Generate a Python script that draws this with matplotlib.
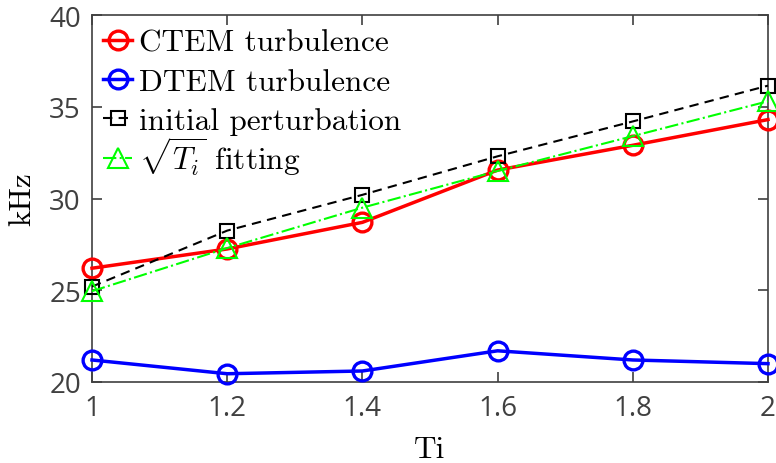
import matplotlib
matplotlib.use('Agg')
import matplotlib.pyplot as plt

plt.rcParams['mathtext.fontset'] = 'cm'
plt.rcParams['axes.unicode_minus'] = False

# data
ti = [1.0, 1.2, 1.4, 1.6, 1.8, 2.0]
ctem = [26.2, 27.25, 28.7, 31.55, 32.9, 34.3]
dtem = [21.2, 20.45, 20.6, 21.7, 21.2, 21.0]
initial = [25.2, 28.25, 30.2, 32.3, 34.2, 36.15]
sqrt_fit = [24.95, 27.3, 29.5, 31.5, 33.4, 35.3]

xticks = [1, 1.2, 1.4, 1.6, 1.8, 2]
xticklabels = ['1', '1.2', '1.4', '1.6', '1.8', '2']
yticks = [20, 25, 30, 35, 40]

fig = plt.figure(figsize=(7.76, 4.64), dpi=100)
ax = fig.add_axes([92/776, 1 - 383/464, 676/776, 367/464])

l1, = ax.plot(ti, ctem, '-o', color='#ff0000', lw=2.5, ms=13.5, mew=2.4,
              mfc='none', label='CTEM turbulence', clip_on=False, zorder=3)
l2, = ax.plot(ti, dtem, '-o', color='#0000ff', lw=2.5, ms=13.5, mew=2.4,
              mfc='none', label='DTEM turbulence', clip_on=False, zorder=3)
l3, = ax.plot(ti, initial, '--s', color='black', lw=1.5, ms=10.5, mew=1.5,
              mfc='none', dashes=(4.5, 3), label='initial perturbation',
              clip_on=False, zorder=4)
l4, = ax.plot(ti, sqrt_fit, '-.^', color='#00ff00', lw=1.5, ms=14, mew=1.5,
              mfc='none', label=r'$\sqrt{T_i}$ fitting', clip_on=False,
              zorder=5)

ax.set_xlim(1, 2)
ax.set_ylim(20, 40)
ax.set_xticks(xticks)
ax.set_xticklabels(xticklabels)
ax.set_yticks(yticks)

axcol = '#404040'
for s in ax.spines.values():
    s.set_color(axcol)
    s.set_linewidth(1.2)
ax.tick_params(direction='in', length=7, width=1.2, color=axcol,
               top=True, right=True, labelcolor=axcol)
ax.tick_params(axis='x', pad=9)
ax.tick_params(axis='y', pad=8)
for lab in ax.get_xticklabels() + ax.get_yticklabels():
    lab.set_fontfamily('Open Sans')
    lab.set_fontsize(20)

ax.set_xlabel('Ti', fontfamily='cmr10', fontsize=22.5)
ax.set_ylabel('kHz', fontfamily='cmr10', fontsize=22.5)
ax.xaxis.set_label_coords(0.5, -0.144)
ax.yaxis.set_label_coords(-0.082, 0.5)

# legend in two parts so the sqrt row keeps the same spacing
legkw = dict(frameon=False, borderpad=0, borderaxespad=0,
             handlelength=0.9, handletextpad=0.25, labelspacing=0.36,
             prop={'family': 'cmr10', 'size': 22.5})
leg1 = ax.legend(handles=[l1, l2, l3], loc='center left',
                 bbox_to_anchor=(0.017, 0.8174), **legkw)
ax.add_artist(leg1)
leg2 = ax.legend(handles=[l4], loc='center left',
                 bbox_to_anchor=(0.017, 0.616), **legkw)

fig.savefig('out.png', dpi=100)
